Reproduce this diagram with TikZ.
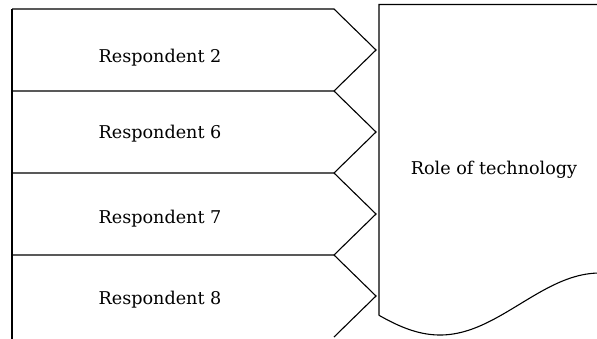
\documentclass[tikz,border=0pt]{standalone}
\usepackage{fontspec}
\setmainfont{DejaVu Serif}

\begin{document}
\begin{tikzpicture}[x=1pt,y=-1pt,line width=1.1pt]
\tikzset{lbl/.style={font=\fontsize{17.6}{20}\selectfont, anchor=base}}
\clip (0,0) rectangle (597,338);
\draw (12,9) -- (12,345);
\foreach \t in {9,91,173,255}
  \draw (12,\t) -- (334,\t) -- (376,\t+41) -- (334,\t+82);
\node[lbl] (resp2) at (160,62) {Respondent 2};
\node[lbl] (resp6) at (160,138) {Respondent 6};
\node[lbl] (resp7) at (160,223) {Respondent 7};
\node[lbl] (resp8) at (160,304) {Respondent 8};
\draw (609,273.5) -- (609,4.5) -- (379,4.5) -- (379,315.3)
  plot[domain=379:609,samples=80] (\x,{304+31*cos(1.125*(\x-440))});
\node[lbl] (role) at (494,174) {Role of technology};
\end{tikzpicture}
\end{document}
